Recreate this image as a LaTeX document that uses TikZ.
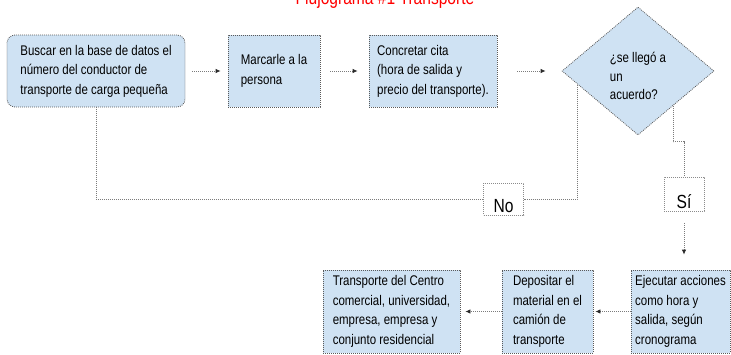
\documentclass[tikz,border=0pt]{standalone}
\usepackage{fontspec}
\setmainfont{Liberation Sans}[FakeStretch=0.82]
\usepackage{tikz}
\usetikzlibrary{arrows.meta}
\usetikzlibrary{shapes.geometric}
\usetikzlibrary{calc}
\definecolor{ColA}{RGB}{207,226,243}
\definecolor{ColB}{RGB}{90,90,90}
\definecolor{ColC}{RGB}{255,0,0}
\definecolor{ColD}{RGB}{40,40,40}
\tikzstyle{Dots}=[dash pattern=on .9pt off 1.1pt,line width=.8pt]
\tikzstyle{StepBox}=[rectangle,Dots,draw=ColB,fill=ColA,minimum height=72pt,inner xsep=2pt,
inner ysep=0pt,align=left,font=\fontsize{14}{19.5}\selectfont]
\tikzstyle{Decision}=[diamond,aspect=1.19,Dots,draw=ColB,fill=ColA,minimum width=152pt,
minimum height=128pt,inner sep=0pt,align=left,text height=58pt,font=\fontsize{14}{18.5}\selectfont]
\tikzstyle{Tag}=[rectangle,Dots,draw=ColB!70,minimum width=40pt,inner xsep=0pt,inner ysep=3pt,
text depth=0pt,anchor=base,font=\fontsize{19}{19}\selectfont]
\tikzstyle{Branch}=[Dots,ColB!80]
\tikzstyle{Flow}=[Branch,-{Latex[length=5pt,width=4.5pt,color=ColD]}]

\begin{document}
\begin{tikzpicture}[x=1pt,y=1pt]
        \useasboundingbox(0,0)rectangle(731,-354);
        \node[text=ColC,anchor=base,font=\fontsize{19}{19}\selectfont](t)at(385,-4){Flujograma \#1 Transporte};
        \node[StepBox,rounded corners=8pt,minimum width=178pt](a)at(96,-71)
            {Buscar en la base de datos el\\número del conductor de\\transporte de carga pequeña};
        \node[StepBox,minimum width=92pt](b)at(274,-71){Marcarle a la\\persona};
        \node[StepBox,minimum width=128pt](c)at(433,-71)
            {Concretar cita\\(hora de salida y\\precio del transporte).};
        \node[Decision](d)at(638,-71){¿se llegó a\\un\\acuerdo?};
        \node[StepBox,minimum width=99pt,minimum height=83pt](e)at(680.5,-311.5)
            {Ejecutar acciones\\como hora y\\salida, según\\cronograma};
        \node[StepBox,minimum width=91pt,minimum height=83pt](f)at(547.5,-311.5)
            {Depositar el\\material en el\\camión de\\transporte};
        \node[StepBox,minimum width=137pt,minimum height=83pt](g)at(391.5,-311.5)
            {Transporte del Centro\\comercial, universidad,\\empresa, empresa y\\conjunto residencial};
        \node[Tag,text height=26pt](no)at(503.5,-212){No};
        \node[Tag,text height=28pt](si)at(684,-208){Sí};
        \coordinate(p)at($(d.west)!0.21!(d.south)$);
        \coordinate(q)at($(d.east)!0.54!(d.south)$);
        \draw[Flow,shorten <=7pt,shorten >=7pt](a)--(b);
        \draw[Flow,shorten <=10pt,shorten >=11pt](b)--(c);
        \draw[Flow,shorten <=20pt,shorten >=16pt](c)--(d);
        \draw[Branch](p)|-(no.east);
        \draw[Branch](no.west)-|(a.south);
        \draw[Branch](q)--++(0,-36)-|(si.north);
        \draw[Flow,shorten <=12pt,shorten >=15pt](si.south)--(si.south|-e.north);
        \draw[Flow,shorten >=2pt](e)--(f);
        \draw[Flow,shorten >=5pt](f)--(g);
    \end{tikzpicture}
\end{document}
